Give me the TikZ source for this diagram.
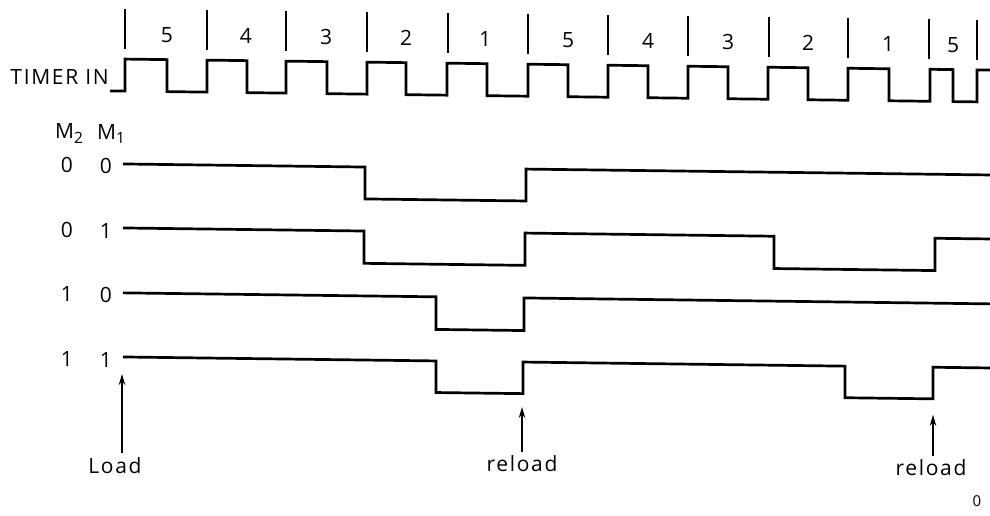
\documentclass[tikz,border=0pt]{standalone}
\usepackage{fontspec}
\setmainfont{Open Sans}
\newfontfamily\lblfont{Open Sans}[LetterSpace=8]
\usetikzlibrary{arrows.meta}
\newcommand{\msub}[1]{\raisebox{-0.22em}{\fontsize{15.5}{15.5}\selectfont #1}}
\begin{document}
\begin{tikzpicture}[x=1pt,y=-1pt,
  wave/.style={line width=2.7pt, line join=miter},
  tickline/.style={line width=1.3pt},
  lbl/.style={font=\fontsize{21}{25}\selectfont\lblfont, inner sep=0pt},
  small/.style={font=\fontsize{15}{18}\selectfont\lblfont, inner sep=0pt},
  arr/.style={line width=1.2pt, -{Stealth[length=11pt,width=6.5pt]}}]
\useasboundingbox (0,0) rectangle (990,516);
\begin{scope}[yslant=-0.0127]
% timer input waveform
\draw[wave] (110,89.5) -- (125,89.5) -- (125,57.5) -- (167,57.5) -- (167,89.5)
  -- (207,89.5) -- (207,57.5) -- (247,57.5) -- (247,89.5)
  -- (286,89.5) -- (286,57.5) -- (327,57.5) -- (327,89.5)
  -- (367,89.5) -- (367,57.5) -- (406,57.5) -- (406,89.5)
  -- (447,89.5) -- (447,57.5) -- (487,57.5) -- (487,89.5)
  -- (528,89.5) -- (528,57.5) -- (568,57.5) -- (568,89.5)
  -- (608,89.5) -- (608,57.5) -- (648,57.5) -- (648,89.5)
  -- (688,89.5) -- (688,57.5) -- (728,57.5) -- (728,89.5)
  -- (768,89.5) -- (768,57.5) -- (808,57.5) -- (808,89.5)
  -- (848,89.5) -- (848,57.5) -- (889,57.5) -- (889,89.5)
  -- (930,89.5) -- (930,57.5) -- (953,57.5) -- (953,89.5)
  -- (977,89.5) -- (977,57.5) -- (992,57.5);
\foreach \x in {125,207,286,367,448,528,608,688,769,848,929,977}
  \draw[tickline] (\x,7.5) -- (\x,47.5);
\foreach \x/\t [count=\i] in {167/5,246/4,326/3,406/2,485/1,568/5,648/4,728/3,808/2,888/1,953/5}
  \node[lbl] (cnt\i) at (\x,33) {\t};
\node[lbl, anchor=base east] (timerin) at (109,83) {TIMER IN};
% mode labels
\node[lbl, anchor=base west] (mtwo) at (55,138) {M\msub{2}};
\node[lbl, anchor=base west] (mone) at (97,138) {M\msub{1}};
\node[lbl, anchor=base] (a0) at (67,172) {0};
\node[lbl, anchor=base] (b0) at (106,172) {0};
\node[lbl, anchor=base] (a1) at (67,237) {0};
\node[lbl, anchor=base] (b1) at (106,237) {1};
\node[lbl, anchor=base] (a2) at (67,301) {1};
\node[lbl, anchor=base] (b2) at (106,301) {0};
\node[lbl, anchor=base] (a3) at (67,366) {1};
\node[lbl, anchor=base] (b3) at (106,366) {1};
% output waveforms
\draw[wave] (123,162.4) -- (365,162.4) -- (365,194.3) -- (526,194.3) -- (526,162.4) -- (992,162.4);
\draw[wave] (123,226.4) -- (364,226.4) -- (364,258.7) -- (525,258.7) -- (525,226.4)
  -- (774,226.4) -- (774,258.7) -- (935,258.7) -- (935,226.4) -- (992,226.4);
\draw[wave] (123,291.3) -- (436,291.3) -- (436,323.9) -- (524,323.9) -- (524,291.3) -- (992,291.3);
\draw[wave] (123,355.4) -- (436,355.4) -- (436,387) -- (523,387) -- (523,355.4)
  -- (845,355.4) -- (845,387) -- (933,387) -- (933,355.4) -- (992,355.4);
% load / reload markers
\coordinate (tipload) at (122,372.5);
\coordinate (tipre1) at (522,400.4);
\coordinate (tipre2) at (933,403);
\node[lbl, anchor=base] (load) at (115,471.6) {Load};
\node[lbl, anchor=base] (re1) at (522,464.4) {reload};
\node[lbl, anchor=base] (re2) at (931,463.2) {reload};
\draw[arr] ([yshift=4pt]load.north -| tipload) -- (tipload);
\draw[arr] ([yshift=3pt]re1.north -| tipre1) -- (tipre1);
\draw[arr] ([yshift=3pt]re2.north -| tipre2) -- (tipre2);
\node[small] (zero) at (977,488.5) {0};
\end{scope}
\end{tikzpicture}
\end{document}
